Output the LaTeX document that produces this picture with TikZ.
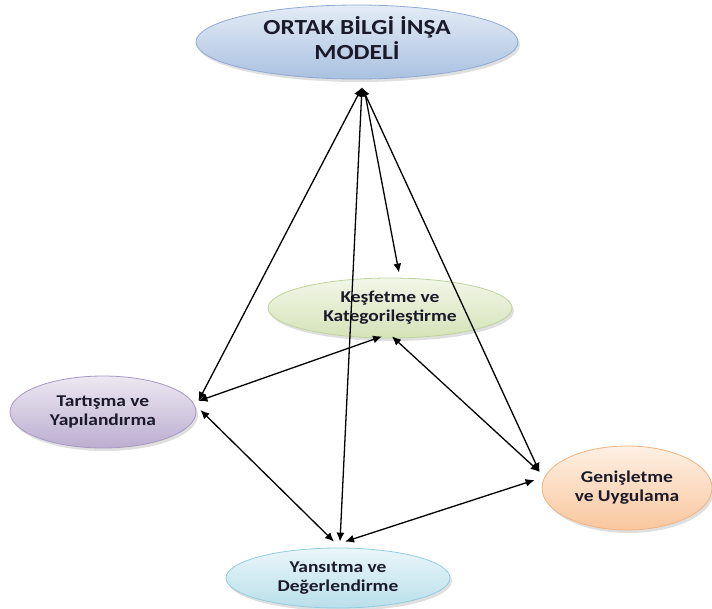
\documentclass[tikz,border=0pt]{standalone}
\usepackage{fontspec}
\usepackage{graphicx}
\setmainfont{Carlito}
\newfontfamily\bubfont{Carlito Bold}
\newcommand\bubtxt[1]{\scalebox{1.18}[1]{\begin{tabular}{@{}c@{}}#1\end{tabular}}}
\usetikzlibrary{shapes.geometric,arrows.meta,shadows}
\definecolor{tTop}{HTML}{E4ECF6}\definecolor{tBot}{HTML}{A9C1E0}\definecolor{tBrd}{HTML}{8FAAD3}
\definecolor{kTop}{HTML}{F2F6E8}\definecolor{kBot}{HTML}{D5E3B8}\definecolor{kBrd}{HTML}{BFD49A}
\definecolor{yTop}{HTML}{EAF6FA}\definecolor{yBot}{HTML}{B9DFEA}\definecolor{yBrd}{HTML}{93CDDD}
\definecolor{rTop}{HTML}{EDE8F2}\definecolor{rBot}{HTML}{BBAED0}\definecolor{rBrd}{HTML}{A898C2}
\definecolor{gTop}{HTML}{FEF0E4}\definecolor{gBot}{HTML}{F9C79E}\definecolor{gBrd}{HTML}{F3B282}
\definecolor{txt}{HTML}{1A1A2A}
\begin{document}
\begin{tikzpicture}[x=1pt,y=1pt,
  bubble/.style={ellipse,inner sep=0pt,font=\bubfont\fontsize{16.5}{19}\selectfont,
    text=txt,line width=0.8pt,
    drop shadow={opacity=0.25,shadow xshift=2pt,shadow yshift=-3pt}},
  link/.style={line width=1.3pt,black},
  tip/.style={-{Latex[length=9pt,width=8pt]}},
  both/.style={{Latex[length=9pt,width=8pt]}-{Latex[length=9pt,width=8pt]}}]
\useasboundingbox (0,0) rectangle (712,-608);
\node[bubble,minimum width=322pt,minimum height=74pt,draw=tBrd,top color=tTop,bottom color=tBot,
  font=\bubfont\fontsize{21.5}{24}\selectfont] (top) at (357,-42) {\bubtxt{ORTAK BİLGİ İNŞA\\MODELİ}};
\node[bubble,minimum width=244pt,minimum height=60pt,draw=kBrd,top color=kTop,bottom color=kBot] (kes) at (390,-308) {\bubtxt{Keşfetme ve\\Kategorileştirme}};
\node[bubble,minimum width=186pt,minimum height=72pt,draw=rBrd,top color=rTop,bottom color=rBot] (tar) at (103,-412) {\bubtxt{Tartışma ve\\Yapılandırma}};
\node[bubble,minimum width=170pt,minimum height=84pt,draw=gBrd,top color=gTop,bottom color=gBot] (gen) at (627,-488) {\bubtxt{Genişletme\\ve Uygulama}};
\node[bubble,minimum width=224pt,minimum height=60pt,draw=yBrd,top color=yTop,bottom color=yBot] (yan) at (338,-578) {\bubtxt{Yansıtma ve\\Değerlendirme}};
% end points near the nodes
\coordinate (apex) at ([shift={(5,-8)}]top.south);
\coordinate (kesT) at ([shift={(9,5)}]kes.north);
\coordinate (kesB1) at ([shift={(-8,2)}]kes.south);
\coordinate (kesB2) at ([shift={(2,2)}]kes.south);
\coordinate (tarA) at ([shift={(2,11)}]tar.east);
\coordinate (tarB) at ([shift={(4,2)}]tar.east);
\coordinate (genA) at ([shift={(-2,16)}]gen.west);
\coordinate (genB) at ([shift={(-7,8)}]gen.west);
\coordinate (yanA) at ([shift={(2,6)}]yan.north);
\coordinate (yanB) at ([shift={(-4,6)}]yan.north);
\coordinate (yanC) at ([shift={(7,6)}]yan.north);
\draw[link,both] (apex) -- (tarA);
\draw[link,both] (apex) -- (yanA);
\draw[link,tip] ([xshift=3pt,yshift=-6pt]apex) -- (kesT);
\draw[link,both] (apex) -- (genA);
\draw[link,both] (tarA) -- (kesB1);
\draw[link,both] (kesB2) -- (genA);
\draw[link,both] (tarB) -- (yanB);
\draw[link,both] (yanC) -- (genB);
\end{tikzpicture}
\end{document}
